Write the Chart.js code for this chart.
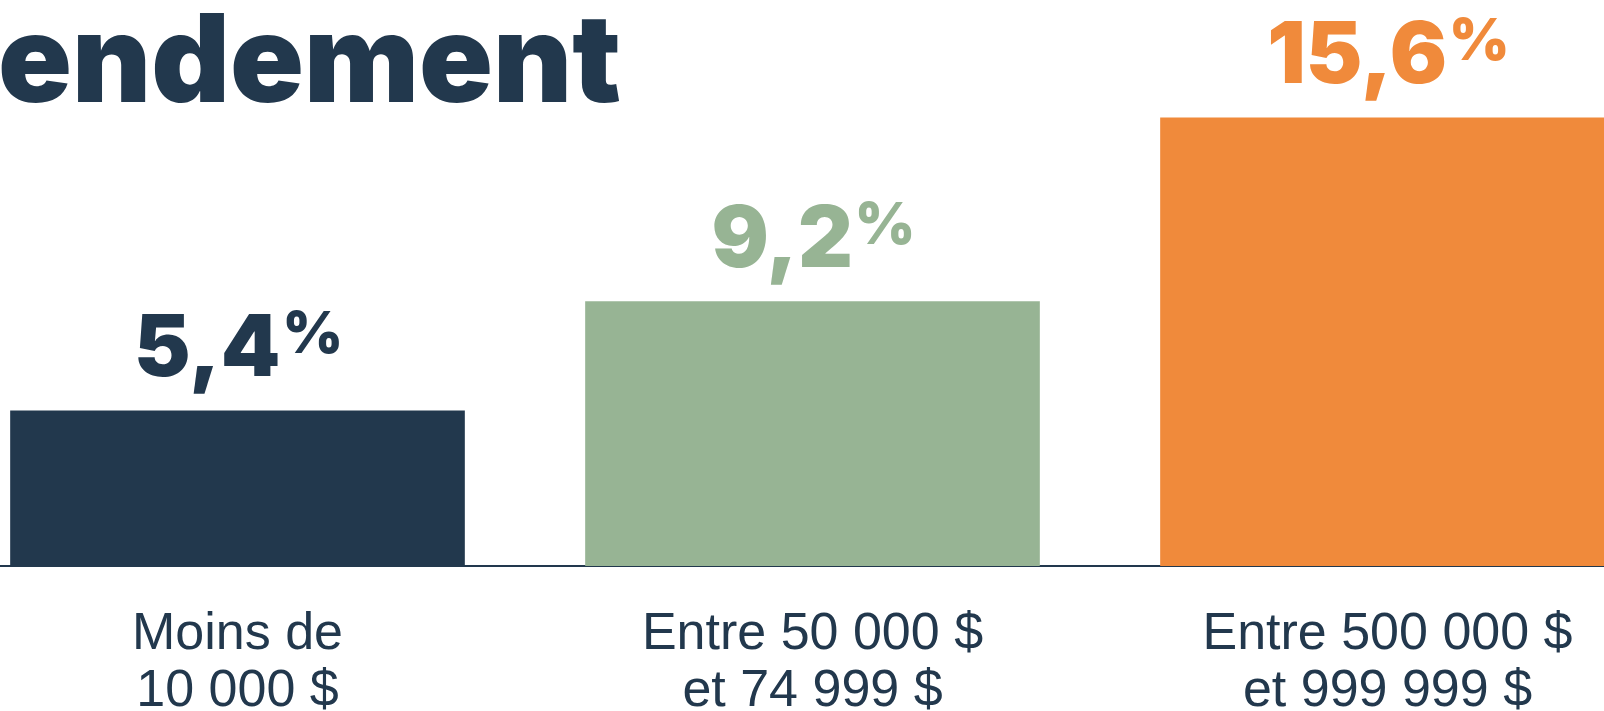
<!DOCTYPE html>
<html lang="fr">
<head>
  <meta charset="UTF-8">
  <title>Rendement</title>
  <script src="https://cdn.jsdelivr.net/npm/chart.js"></script>
  <style>
    html, body { margin: 0; padding: 0; background: #fff; overflow: hidden; }
    /* le graphique déborde un peu à gauche et à droite, comme dans l'original */
    #cadre { position: absolute; left: -50px; top: 0; width: 1725px; height: 711px; }
  </style>
</head>
<body>
  <div id="cadre"><canvas id="chart"></canvas></div>

  <script>
    const titre = 'endement';
    const categories = [
      ['Moins de', '10 000 $'],
      ['Entre 50 000 $', 'et 74 999 $'],
      ['Entre 500 000 $', 'et 999 999 $']
    ];
    const valeurs = [5.4, 9.2, 15.6];
    const couleurs = ['#22384d', '#97b494', '#f08a3b'];

    const policeGrasse = 'Inter, Lato, "DejaVu Sans", sans-serif';

    // Titre (coupé à gauche dans l'image d'origine)
    const pluginTitre = {
      id: 'titre',
      afterDraw(chart) {
        const ctx = chart.ctx;
        ctx.save();
        ctx.font = '900 122px ' + policeGrasse;
        ctx.fillStyle = '#22384d';
        ctx.textAlign = 'right';
        ctx.textBaseline = 'alphabetic';
        ctx.fillText(titre, 671, 102);
        ctx.restore();
      }
    };

    // Valeurs au-dessus des barres, avec le % en exposant
    const pluginValeurs = {
      id: 'valeurs',
      afterDatasetsDraw(chart) {
        const ctx = chart.ctx;
        const meta = chart.getDatasetMeta(0);
        const grand = '900 85px ' + policeGrasse;
        const petit = '900 58px ' + policeGrasse;
        ctx.save();
        ctx.textAlign = 'left';
        ctx.textBaseline = 'alphabetic';
        meta.data.forEach((barre, i) => {
          const nombre = valeurs[i].toFixed(1).replace('.', ',');
          ctx.font = grand;
          const l1 = ctx.measureText(nombre).width;
          ctx.font = petit;
          const l2 = ctx.measureText('%').width;
          const x0 = barre.x - (l1 + l2) / 2;
          const y = barre.y - 35;
          ctx.fillStyle = couleurs[i];
          ctx.font = grand;
          ctx.fillText(nombre, x0, y);
          ctx.font = petit;
          ctx.fillText('%', x0 + l1 + 2, y - 23);
        });
        ctx.restore();
      }
    };

    new Chart(document.getElementById('chart'), {
      type: 'bar',
      data: {
        labels: categories,
        datasets: [{
          data: valeurs,
          backgroundColor: couleurs,
          borderWidth: 0,
          barThickness: 454
        }]
      },
      options: {
        responsive: true,
        maintainAspectRatio: false,
        animation: false,
        layout: { padding: 0 },
        plugins: {
          legend: { display: false },
          tooltip: { enabled: false }
        },
        scales: {
          x: {
            z: 1,
            grid: { display: false, drawTicks: false },
            border: { display: true, color: '#22384d', width: 2 },
            ticks: {
              color: '#22384d',
              font: { family: '"Liberation Sans", Arial, sans-serif', size: 52, lineHeight: 1.1 },
              padding: 40,
              maxRotation: 0,
              autoSkip: false
            },
            afterFit(echelle) { echelle.height = 145; }
          },
          y: { display: false, min: 0, max: 19.7 }
        }
      },
      plugins: [pluginTitre, pluginValeurs]
    });
  </script>
</body>
</html>
